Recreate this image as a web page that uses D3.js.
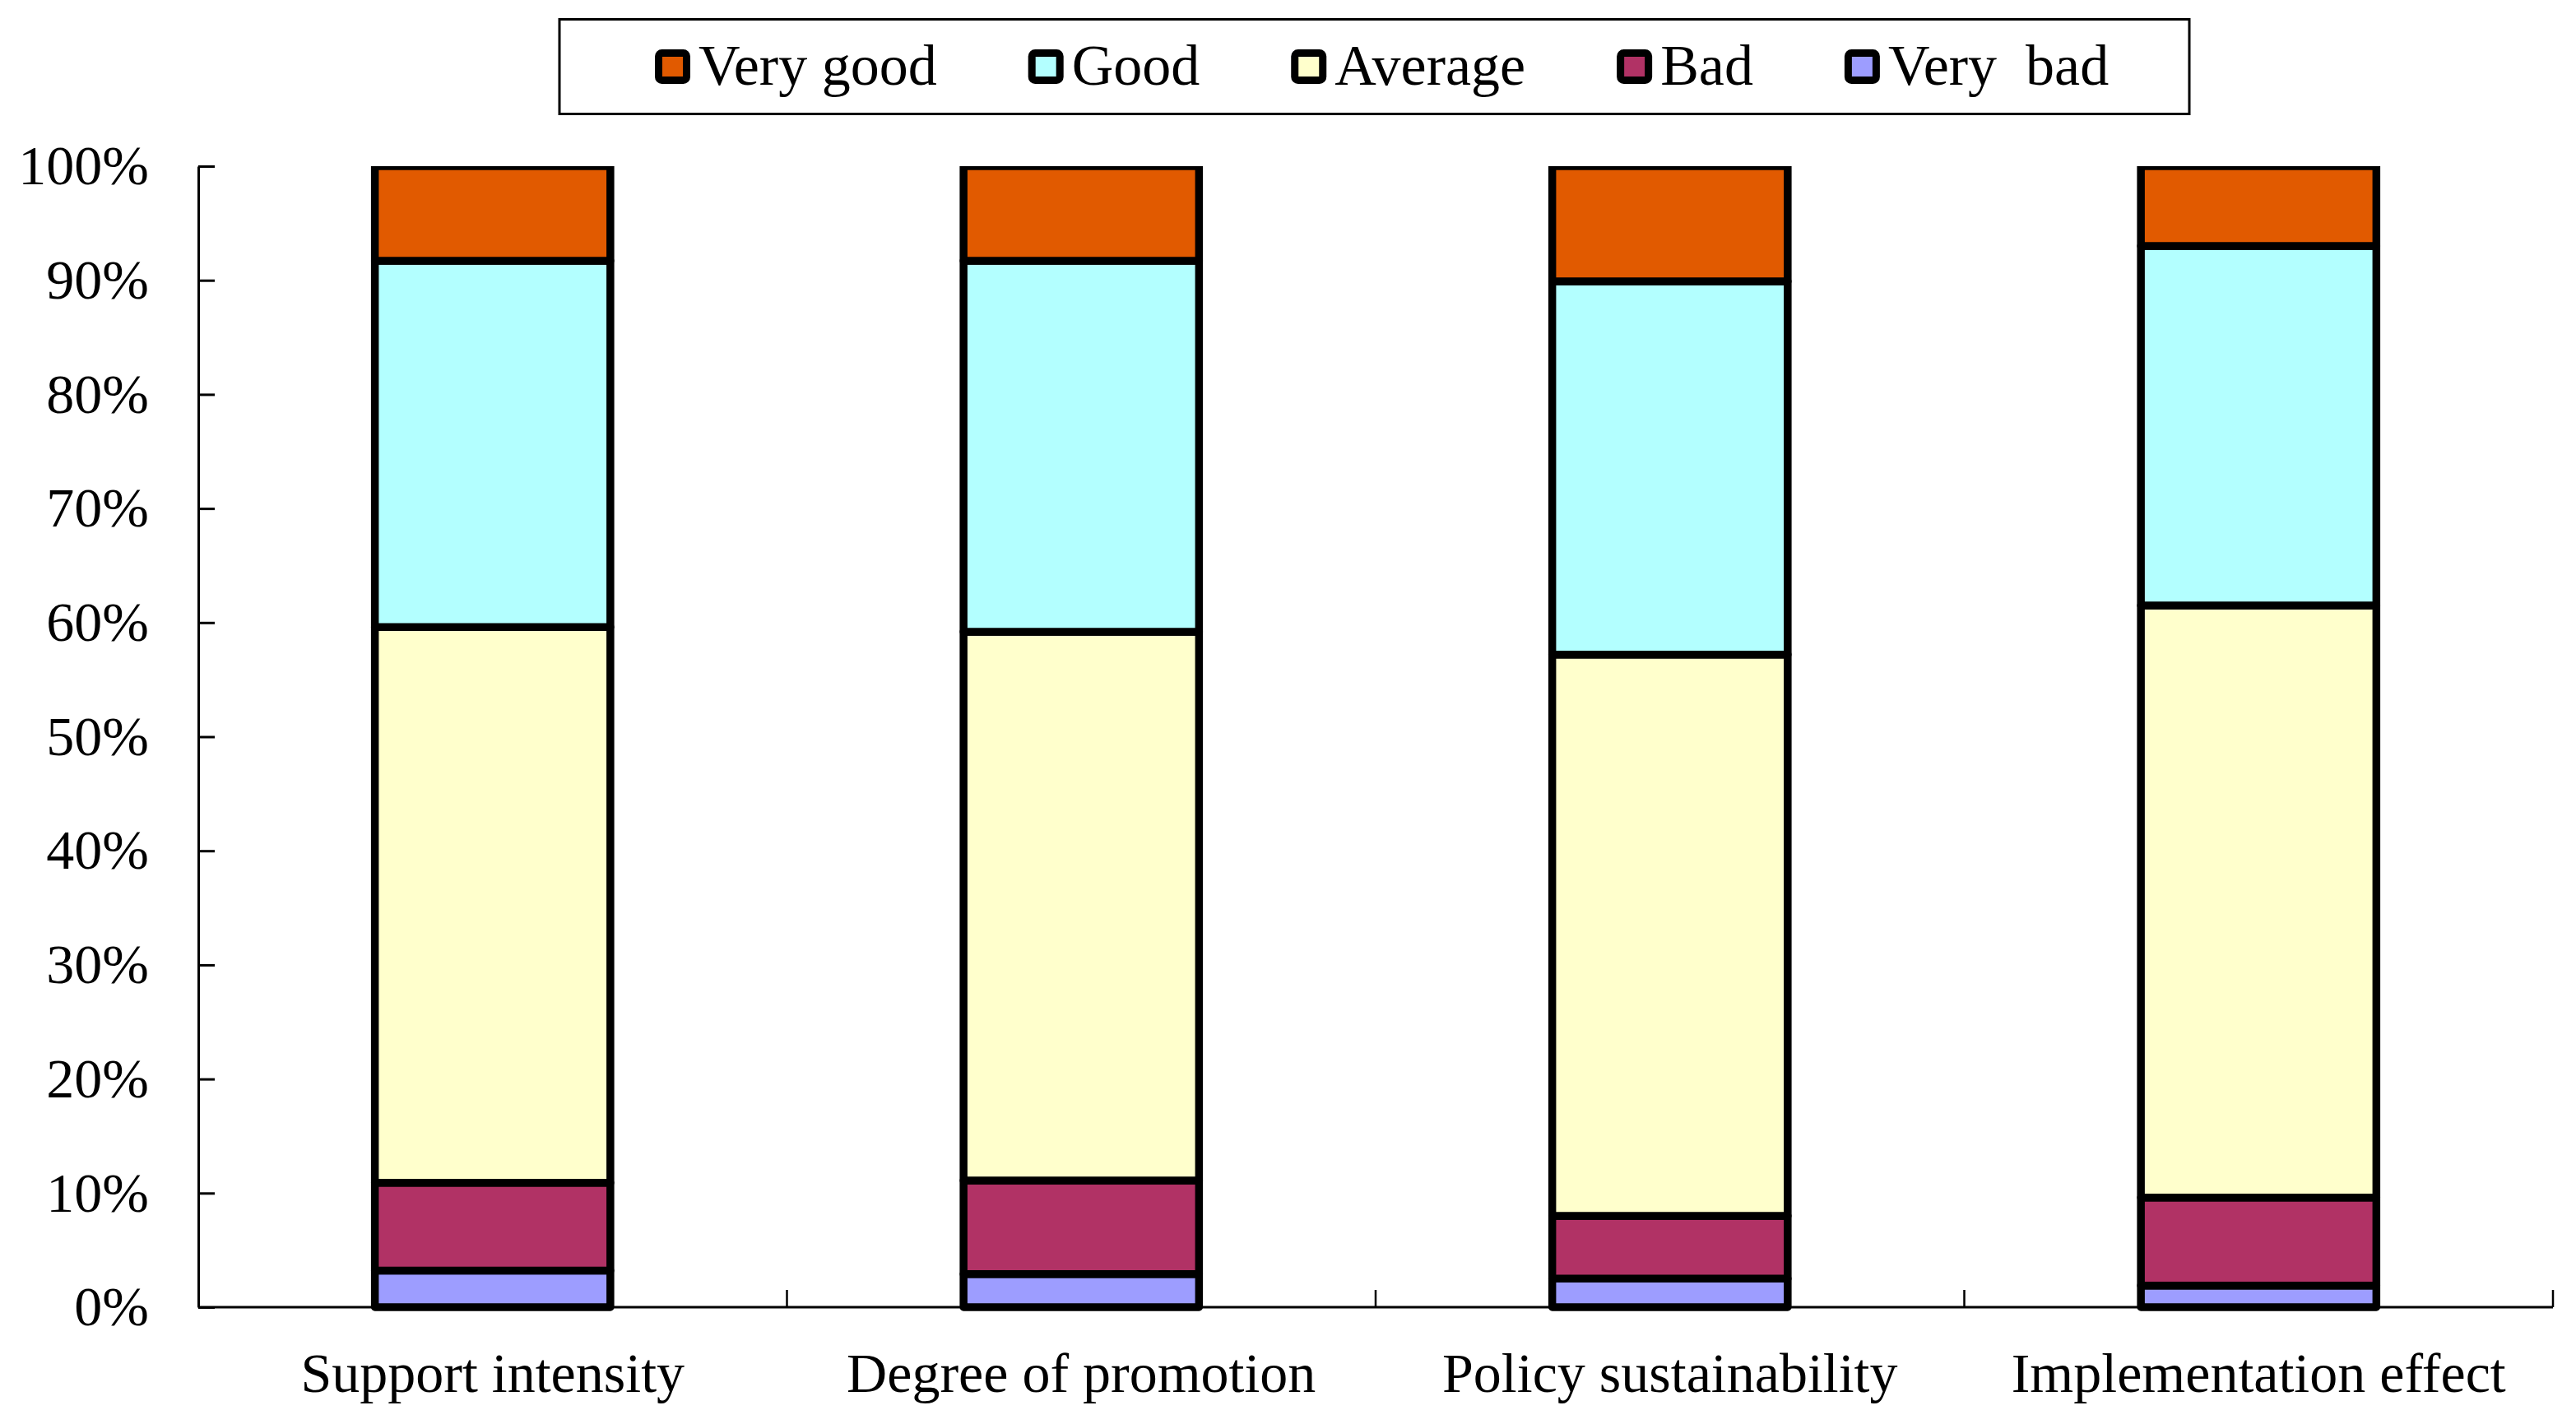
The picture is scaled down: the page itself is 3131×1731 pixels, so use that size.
<!DOCTYPE html>
<html>
<head>
<meta charset="utf-8">
<script src="https://cdn.jsdelivr.net/npm/d3@7"></script>
<style>
  html, body { margin: 0; padding: 0; background: #fff; }
  svg { display: block; }
  text { font-family: "Liberation Serif", "Times New Roman", serif; fill: #000; }
</style>
</head>
<body>
<svg id="chart" width="3131" height="1731"></svg>
<script>
// ---- data ----
const categories = ["Support intensity", "Degree of promotion", "Policy sustainability", "Implementation effect"];
const seriesNames = ["Very good", "Good", "Average", "Bad", "Very  bad"];
const seriesColors = ["#E15A00", "#B3FFFF", "#FFFFCC", "#B13265", "#9D9DFF"];
// percentages per category (stacked bottom to top: Very bad, Bad, Average, Good, Very good)
const veryBad  = [3.2, 2.9, 2.5, 1.9];
const bad      = [7.7, 8.2, 5.5, 7.7];
const average  = [48.7, 48.1, 49.2, 51.9];
const good     = [32.1, 32.5, 32.7, 31.5];
const veryGood = [8.3, 8.3, 10.1, 7.0];
const yTicks = [0, 10, 20, 30, 40, 50, 60, 70, 80, 90, 100];

(function () {
const svg = d3.select("#chart");
const pLeft = 241, pRight = 3103, pTop = 202, pBottom = 1589;
const fontSize = 68;
const legendFont = 70;

const table = categories.map((c, i) => ({
  cat: c,
  "Very good": veryGood[i], "Good": good[i], "Average": average[i], "Bad": bad[i], "Very  bad": veryBad[i]
}));
const stackKeys = ["Very  bad", "Bad", "Average", "Good", "Very good"];
const stacked = d3.stack().keys(stackKeys)(table);
const colorOf = d3.scaleOrdinal().domain(seriesNames).range(seriesColors);

const x = d3.scaleBand().domain(categories).range([pLeft, pRight]).paddingInner(0).paddingOuter(0);
const y = d3.scaleLinear().domain([0, 100]).range([pBottom, pTop]);
const barW = x.bandwidth() * 0.4;

svg.append("defs").append("clipPath").attr("id", "plotclip")
  .append("rect").attr("x", 0).attr("y", pTop).attr("width", 3131).attr("height", 1731 - pTop);

const gBars = svg.append("g").attr("clip-path", "url(#plotclip)");
stacked.forEach(layer => {
  gBars.selectAll(null).data(layer).enter().append("rect")
    .attr("x", d => x(d.data.cat) + (x.bandwidth() - barW) / 2)
    .attr("width", barW)
    .attr("y", d => y(d[1]))
    .attr("height", d => y(d[0]) - y(d[1]))
    .attr("fill", colorOf(layer.key))
    .attr("stroke", "#000")
    .attr("stroke-width", 9.5)
    .attr("stroke-linejoin", "round");
});

const yAxis = d3.axisLeft(y).tickValues(yTicks).tickFormat(d => d + "%")
  .tickSizeInner(-20).tickSizeOuter(0).tickPadding(60);
const gy = svg.append("g").attr("transform", `translate(${pLeft},0)`).call(yAxis);
gy.select(".domain").attr("stroke", "#000").attr("stroke-width", 3);
gy.selectAll(".tick line").attr("stroke", "#000").attr("stroke-width", 3);
gy.selectAll(".tick text").attr("font-size", fontSize)
  .attr("font-family", "'Liberation Serif', 'Times New Roman', serif").attr("fill", "#000");

const gx = svg.append("g");
gx.append("line").attr("x1", pLeft).attr("x2", pRight).attr("y1", pBottom).attr("y2", pBottom)
  .attr("stroke", "#000").attr("stroke-width", 3);
gx.selectAll(".xt").data(categories).enter().append("line")
  .attr("x1", d => x(d) + x.bandwidth()).attr("x2", d => x(d) + x.bandwidth())
  .attr("y1", pBottom).attr("y2", pBottom - 21)
  .attr("stroke", "#000").attr("stroke-width", 2.5);
gx.selectAll(".xl").data(categories).enter().append("text")
  .attr("x", d => x(d) + x.bandwidth() / 2)
  .attr("y", 1692)
  .attr("text-anchor", "middle")
  .attr("font-size", fontSize)
  .text(d => d);

const lg = svg.append("g");
lg.append("rect").attr("x", 680).attr("y", 23.5).attr("width", 1981).attr("height", 115)
  .attr("fill", "#fff").attr("stroke", "#000").attr("stroke-width", 3);
let lx = 796;
seriesNames.forEach((name, i) => {
  lg.append("rect").attr("x", lx + 4.5).attr("y", 64.5).attr("width", 34).attr("height", 33)
    .attr("rx", 4).attr("fill", seriesColors[i]).attr("stroke", "#000").attr("stroke-width", 9);
  const t = lg.append("text").attr("x", lx + 53).attr("y", 103)
    .attr("font-size", legendFont).style("white-space", "pre").text(name);
  lx += 53 + t.node().getComputedTextLength() + 111;
});
})();
</script>
</body>
</html>
